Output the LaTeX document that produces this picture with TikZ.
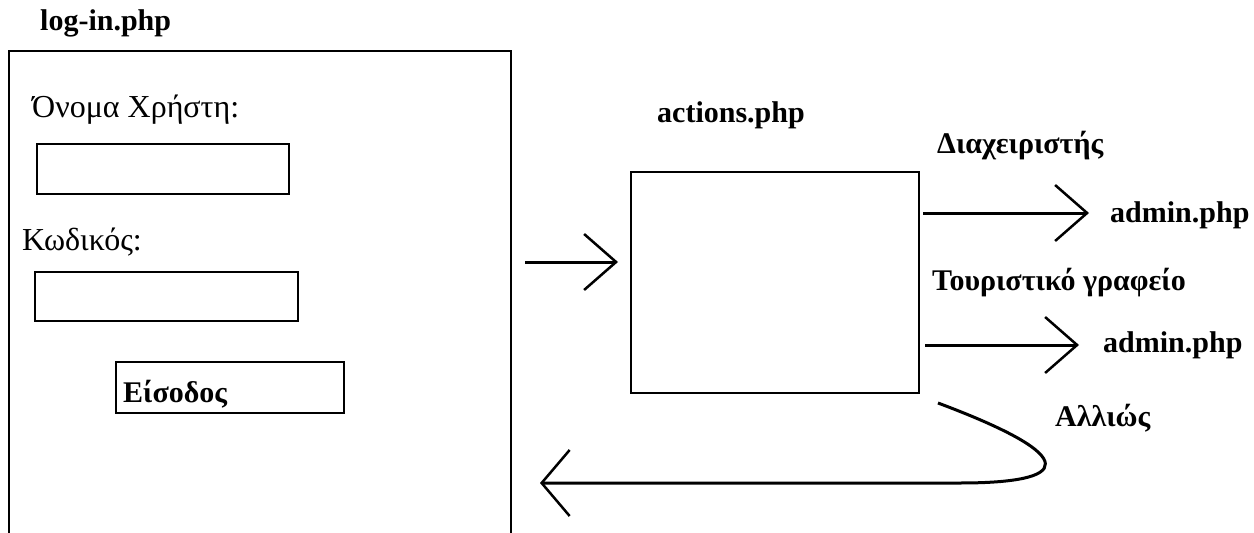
\documentclass[tikz,border=0pt]{standalone}
\usepackage{fontspec}
\setmainfont{Liberation Serif}
\usetikzlibrary{arrows.meta}
\begin{document}
\begin{tikzpicture}[x=1pt,y=-1pt,
  box/.style={draw, line width=1.6pt, inner sep=0pt},
  lbl/.style={inner sep=0pt, font=\fontsize{32}{38}\selectfont},
  blbl/.style={inner sep=0pt, font=\fontsize{30}{36}\selectfont\bfseries},
  arr/.style={line width=3pt, -{Straight Barb[length=32pt,width=56pt,line width=2.5pt]}}]
\clip (0,0) rectangle (1254,533);
\fill[white] (0,0) rectangle (1254,533);
% left page
\node[blbl, anchor=base west] (logintitle) at (40,30) {log-in.php};
\node[box, anchor=north west, minimum width=502pt, minimum height=520pt] (login) at (8,50) {};
\node[lbl, anchor=base west] (username) at (32,117) {Όνομα Χρήστη:};
\node[box, anchor=north west, minimum width=252pt, minimum height=50pt] (userfield) at (36,143) {};
\node[lbl, anchor=base west] (password) at (22,250) {Κωδικός:};
\node[box, anchor=north west, minimum width=263pt, minimum height=49pt] (passfield) at (34,271) {};
\node[box, anchor=north west, minimum width=228pt, minimum height=51pt] (button) at (115,361) {};
\node[blbl, anchor=base west] (buttontext) at (123,402) {Είσοδος};
% actions
\node[blbl, anchor=base] (actitle) at (731,122) {actions.php};
\node[box, anchor=north west, minimum width=288pt, minimum height=221pt] (actbox) at (630,171) {};
\node[blbl, anchor=base west] (admlbl) at (937,153) {Διαχειριστής};
\node[blbl, anchor=base west] (admin1) at (1110,222) {admin.php};
\node[blbl, anchor=base west] (toulbl) at (932,290) {Τουριστικό γραφείο};
\node[blbl, anchor=base west] (admin2) at (1103,352) {admin.php};
\node[blbl, anchor=base west] (elselbl) at (1055,426) {Αλλιώς};
% connectors
\coordinate (instart) at (525,262);
\draw[arr] (instart) -- ([xshift=-12pt]instart -| actbox.west);
\coordinate (outa) at (923,213);
\draw[arr] (outa) -- ([xshift=-21pt]outa -| admin1.west);
\coordinate (outb) at (925,345);
\draw[arr] (outb) -- ([xshift=-24pt]outb -| admin2.west);
\coordinate (retstart) at (938,403);
\coordinate (retend) at (540,483);
\draw[line width=3pt, -{Straight Barb[length=28pt,width=66pt,line width=2.5pt]}]
  (retstart) .. controls (1085,458) and (1070,483) .. (960,483) -- (retend);
\end{tikzpicture}
\end{document}
